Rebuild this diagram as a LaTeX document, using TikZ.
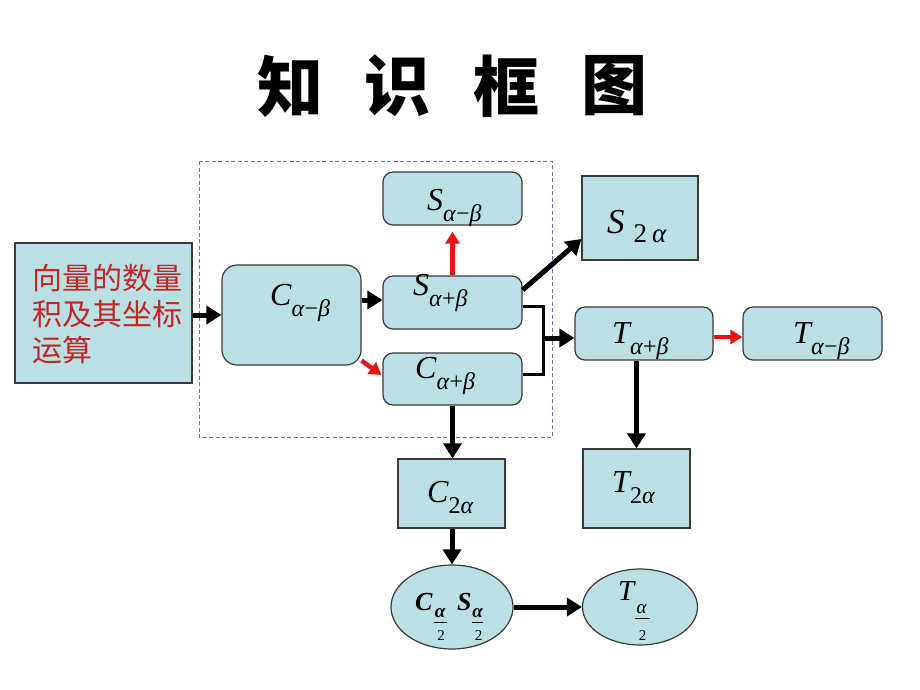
\documentclass[tikz,border=0pt]{standalone}
\usepackage{fontspec}
\usetikzlibrary{arrows.meta,shapes.geometric}
\newfontfamily\cjk{Noto Sans CJK SC}
\newfontfamily\tms{Liberation Serif}
\definecolor{boxfill}{RGB}{187,224,228}
\definecolor{boxline}{RGB}{58,58,58}
\definecolor{arrred}{RGB}{232,20,20}
\definecolor{txtred}{RGB}{192,40,40}
\definecolor{dashblue}{RGB}{105,115,170}
\newcommand\Mi[1]{{\fontsize{32}{32}\selectfont\tms\itshape #1}}
\newcommand\Sb[1]{\raisebox{-11pt}{\fontsize{24}{24}\selectfont\tms\itshape #1}}
\tikzset{
  rbox/.style={draw=boxline, line width=1.2pt, fill=boxfill, rounded corners=10pt, inner sep=0pt},
  sbox/.style={draw=boxline, line width=1.2pt, fill=boxfill, inner sep=0pt},
  ebox/.style={ellipse, draw=boxline, line width=1.2pt, fill=boxfill, inner sep=0pt},
  lbl/.style={anchor=base west, inner sep=0pt},
  fnum/.style={anchor=base, inner sep=0pt, font=\fontsize{19}{19}\selectfont\tms\itshape},
  fden/.style={anchor=base, inner sep=0pt, font=\fontsize{15}{15}\selectfont\tms},
  fbar/.style={line width=0.8pt},
  barrow/.style={line width=5pt, -{Triangle[length=15pt,width=18pt]}},
  rarrow/.style={draw=arrred, line width=4.5pt, -{Triangle[length=12pt,width=14pt]}},
  bline/.style={line width=3pt},
}
\begin{document}
\begin{tikzpicture}[x=1pt,y=-1pt]
\useasboundingbox (0,0) rectangle (920,690);
\fill[white] (0,0) rectangle (920,690);
% title
\node (t1) at (290,86) {\fontsize{66}{66}\selectfont\cjk\bfseries 知};
\node (t2) at (397,86) {\fontsize{66}{66}\selectfont\cjk\bfseries 识};
\node (t3) at (506,86) {\fontsize{66}{66}\selectfont\cjk\bfseries 框};
\node (t4) at (614,86) {\fontsize{66}{66}\selectfont\cjk\bfseries 图};
% dashed frame
\draw[dashblue, line width=1pt, dash pattern=on 4pt off 2.5pt] (199,161) rectangle (552,437);
% boxes
\node[sbox, minimum width=177pt, minimum height=140pt] (vec) at (103.5,313) {};
\node[rbox, rounded corners=15pt, minimum width=139pt, minimum height=100pt] (cab) at (291.5,315) {};
\node[rbox, minimum width=139pt, minimum height=53pt] (samb) at (452.5,198.5) {};
\node[rbox, minimum width=139pt, minimum height=53pt] (sapb) at (452.5,302.5) {};
\node[rbox, minimum width=139pt, minimum height=52pt] (capb) at (452.5,379) {};
\node[sbox, minimum width=116pt, minimum height=84pt] (s2a) at (640,218) {};
\node[rbox, minimum width=138pt, minimum height=53pt] (tapb) at (644,333.5) {};
\node[rbox, minimum width=139pt, minimum height=53pt] (tamb) at (812.5,333.5) {};
\node[sbox, minimum width=107pt, minimum height=79pt] (t2a) at (636.5,488.5) {};
\node[sbox, minimum width=107pt, minimum height=69pt] (c2a) at (451.5,493.5) {};
\node[ebox, minimum width=122pt, minimum height=84pt] (e1) at (452,607) {};
\node[ebox, minimum width=115pt, minimum height=76pt] (e2) at (640,607) {};
% labels
\node[anchor=north west, inner sep=0pt, align=left, text=txtred, font=\fontsize{30}{36}\selectfont\cjk] (vecl) at (32,264) {向量的数量\\积及其坐标\\运算};
\node[lbl] (cabl) at (270,305) {\Mi{C}\Sb{α\textup{−}β}};
\node[lbl] (sambl) at (427,210) {\Mi{S}\Sb{α\textup{−}β}};
\node[lbl] (sapbl) at (413,295) {\Mi{S}\Sb{α\textup{+}β}};
\node[lbl] (capbl) at (415,378) {\Mi{C}\Sb{α\textup{+}β}};
\node[lbl] (s2al) at (607,233) {{\fontsize{35}{35}\selectfont\tms\itshape S}\raisebox{-9pt}{\fontsize{27}{27}\selectfont\tms\hspace{9pt}2\hspace{5pt}\itshape α}};
\node[lbl] (tapbl) at (612,343) {\Mi{T}\Sb{α\textup{+}β}};
\node[lbl] (tambl) at (793,343) {\Mi{T}\Sb{α\textup{−}β}};
\node[lbl] (c2al) at (427,502) {\Mi{C}\Sb{\textup{2}α}};
\node[lbl] (t2al) at (612,492) {\Mi{T}\Sb{\textup{2}α}};
% ellipse 1: C_{a/2} S_{a/2}
\node[lbl] (e1c) at (415,610) {\fontsize{26}{26}\selectfont\tms\bfseries\itshape C};
\node[fnum, font=\fontsize{19}{19}\selectfont\tms\bfseries\itshape] (e1n1) at (440,617) {α};
\draw[fbar] (434,622) -- (447,622);
\node[fden] (e1d1) at (441,640) {2};
\node[lbl] (e1s) at (457,610) {\fontsize{26}{26}\selectfont\tms\bfseries\itshape S};
\node[fnum, font=\fontsize{19}{19}\selectfont\tms\bfseries\itshape] (e1n2) at (477.5,617) {α};
\draw[fbar] (472,622) -- (483,622);
\node[fden] (e1d2) at (478.5,640) {2};
% ellipse 2: T_{a/2}
\node[lbl] (e2t) at (618,600) {\fontsize{29}{29}\selectfont\tms\itshape T};
\node[fnum] (e2n) at (641.5,613) {α};
\draw[fbar] (635,618) -- (650,618);
\node[fden] (e2d) at (642.5,640) {2};
% connectors
\draw[barrow] (vec.east |- cab.west) -- (cab.west);
\coordinate (c1) at ([yshift=15pt]cab.east);
\draw[barrow] (c1) -- (c1 -| sapb.west);
\draw[rarrow] ([yshift=5pt]cab.south east) -- ([yshift=4pt,xshift=-1pt]capb.west);
\draw[rarrow] (sapb.north) -- ([yshift=-6pt]samb.south);
\draw[barrow] ([yshift=12.5pt]sapb.east) -- ([yshift=-21pt]s2a.west);
\coordinate (jn) at (543,338);
\draw[bline] ([yshift=-3.5pt]sapb.east) -| (jn) |- ([yshift=5pt]capb.east);
\draw[barrow] (jn) -- (jn -| tapb.west);
\draw[rarrow] ([yshift=-3.5pt]tapb.east) -- ([yshift=-3.5pt]tamb.west);
\draw[barrow] (tapb.south -| t2a.north) -- (t2a.north);
\draw[barrow] (capb.south) -- (capb.south |- c2a.north);
\draw[barrow] (c2a.south -| e1.north) -- (e1.north);
\draw[barrow] (e1.east) -- (e2.west);
\end{tikzpicture}
\end{document}
